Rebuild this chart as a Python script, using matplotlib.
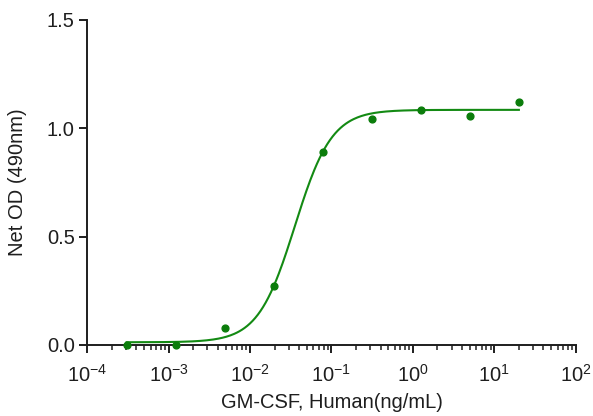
import numpy as np
import matplotlib

matplotlib.use("Agg")
import matplotlib.pyplot as plt

plt.rcParams["font.family"] = ["Liberation Sans", "DejaVu Sans"]
plt.rcParams["mathtext.fontset"] = "custom"
plt.rcParams["mathtext.rm"] = "Liberation Sans"
plt.rcParams["mathtext.it"] = "Liberation Sans"
plt.rcParams["mathtext.default"] = "regular"

conc = [0.000305, 0.00122, 0.00488, 0.0195, 0.078, 0.3125, 1.25, 5.0, 20.0]
od = [0.0, 0.0, 0.08, 0.27, 0.89, 1.045, 1.085, 1.055, 1.12]

decades = [-4, -3, -2, -1, 0, 1, 2]
xtick_labels = ["$10^{%d}$" % d for d in decades]

# 4PL fit parameters
bottom, top, ec50, hill = 0.012, 1.085, 0.0355, 1.915

green = "#138a13"
dark = "#1e1e1e"

fig = plt.figure(figsize=(5.93, 4.16), dpi=100)
ax = fig.add_axes([0.147, 0.171, 0.824, 0.781])

xfit = np.logspace(np.log10(conc[0]), np.log10(conc[-1]), 300)
yfit = bottom + (top - bottom) / (1 + (ec50 / xfit) ** hill)
ax.plot(xfit, yfit, color=green, lw=1.5, clip_on=False)
ax.scatter(conc, od, s=24, color="#0b7d0b", zorder=3, clip_on=False)

ax.set_xscale("log")
ax.set_xlim(1e-4, 1e2)
ax.set_ylim(0, 1.5)
ax.set_yticks([0.0, 0.5, 1.0, 1.5])
ax.set_yticklabels(["0.0", "0.5", "1.0", "1.5"])
ax.set_xticks([10.0 ** d for d in decades])
ax.set_xticklabels(xtick_labels)
minor = [m * 10.0 ** d for d in decades[:-1] for m in range(2, 10)]
ax.set_xticks(minor, minor=True)
ax.set_xticklabels([""] * len(minor), minor=True)

for side in ["top", "right"]:
    ax.spines[side].set_visible(False)
for side in ["left", "bottom"]:
    ax.spines[side].set_linewidth(1.4)
    ax.spines[side].set_color(dark)

ax.tick_params(axis="both", which="major", length=6, width=1.4, labelsize=14.5, colors=dark)
ax.tick_params(axis="x", which="minor", length=3.5, width=1.1, colors=dark)
ax.tick_params(axis="x", pad=8)
ax.tick_params(axis="y", pad=3)

ax.set_xlabel("GM-CSF, Human(ng/mL)", fontsize=14.5, labelpad=5, color=dark)
ax.set_ylabel("Net OD (490nm)", fontsize=14.5, labelpad=14, color=dark)

fig.savefig("out.png", dpi=100)
